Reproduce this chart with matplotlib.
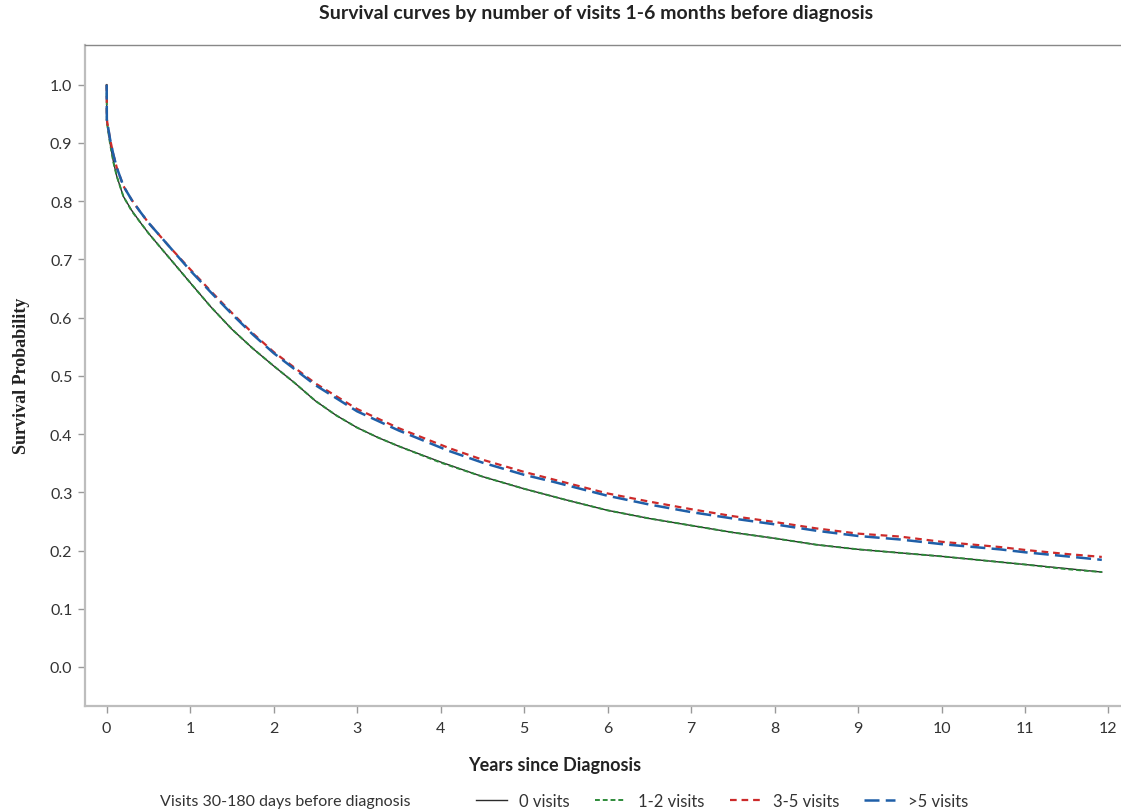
import numpy as np
import matplotlib
matplotlib.use('Agg')
import matplotlib.pyplot as plt

plt.rcParams['font.family'] = ['Lato', 'DejaVu Sans']

# Kaplan-Meier curves (years, survival probability)
t_low = [0, 0.002, 0.04, 0.08, 0.12, 0.2, 0.3, 0.4, 0.5, 0.67, 0.8, 1.0, 1.25, 1.5, 1.75,
         2.0, 2.25, 2.5, 2.75, 3.0, 3.25, 3.5, 4.0, 4.5, 5.0, 5.5, 6.0, 6.5, 7.0, 7.5, 8.0,
         8.5, 9.0, 9.5, 10.0, 10.5, 11.0, 11.5, 11.92]
surv_0 = [1.0, 0.937, 0.90, 0.868, 0.843, 0.808, 0.784, 0.764, 0.745, 0.716, 0.694, 0.66,
          0.618, 0.58, 0.547, 0.517, 0.488, 0.457, 0.432, 0.411, 0.394, 0.379, 0.352, 0.327,
          0.306, 0.287, 0.269, 0.255, 0.243, 0.231, 0.221, 0.21, 0.202, 0.196, 0.19, 0.183,
          0.176, 0.169, 0.163]
surv_12 = [1.0, 0.936, 0.899, 0.867, 0.843, 0.808, 0.783, 0.764, 0.745, 0.716, 0.694, 0.66,
           0.618, 0.58, 0.547, 0.517, 0.488, 0.457, 0.432, 0.411, 0.394, 0.379, 0.351, 0.327,
           0.306, 0.287, 0.269, 0.255, 0.243, 0.231, 0.221, 0.21, 0.202, 0.196, 0.19, 0.183,
           0.176, 0.168, 0.163]

t_up = [0, 0.002, 0.04, 0.08, 0.12, 0.2, 0.3, 0.4, 0.5, 0.75, 1.0, 1.25, 1.5, 1.75, 2.0,
        2.5, 3.0, 3.5, 4.1, 4.5, 5.0, 5.35, 6.0, 6.5, 7.0, 7.5, 8.0, 8.5, 9.0, 9.5, 10.0,
        10.7, 11.0, 11.5, 11.92]
surv_35 = [1.0, 0.94, 0.907, 0.88, 0.858, 0.826, 0.802, 0.782, 0.763, 0.722, 0.683, 0.645,
           0.608, 0.573, 0.541, 0.487, 0.443, 0.41, 0.376, 0.356, 0.335, 0.322, 0.298, 0.284,
           0.271, 0.259, 0.249, 0.238, 0.229, 0.224, 0.215, 0.206, 0.201, 0.194, 0.189]
surv_5p = [1.0, 0.94, 0.907, 0.88, 0.858, 0.826, 0.802, 0.782, 0.763, 0.722, 0.681, 0.643,
           0.606, 0.571, 0.539, 0.484, 0.439, 0.406, 0.371, 0.351, 0.33, 0.318, 0.294, 0.279,
           0.266, 0.255, 0.245, 0.234, 0.225, 0.219, 0.211, 0.202, 0.197, 0.19, 0.184]

labels = ['0 visits', '1-2 visits', '3-5 visits', '>5 visits']

fig = plt.figure(figsize=(11.21, 8.12), dpi=100)
ax = fig.add_axes([0.0758, 0.1293, 0.9242, 0.814])

ax.plot(t_low, surv_0, color='#2b2b2b', lw=1.0, ls='-', label=labels[0])
ax.plot(t_low, surv_12, color='#2e8b3a', lw=1.4, ls=(0, (2.5, 1.5)), label=labels[1])
ax.plot(t_up, surv_35, color='#cc2a2a', lw=1.6, ls=(0, (3, 2.2)), label=labels[2])
ax.plot(t_up, surv_5p, color='#1f5fa8', lw=1.8, ls=(0, (6, 2.5)), label=labels[3])

ax.set_xlim(-0.26, 12.15)
ax.set_ylim(-0.067, 1.068)
ax.set_xticks(range(0, 13))
ax.set_yticks(np.round(np.arange(0, 1.01, 0.1), 1))
ax.yaxis.set_major_formatter(matplotlib.ticker.FormatStrFormatter('%.1f'))
ax.tick_params(direction='out', length=5, width=1, color='#999999',
               labelcolor='#333333', labelsize=11.5)
ax.tick_params(axis='y', pad=4)
ax.tick_params(axis='x', pad=6)

for s in ['left', 'bottom']:
    ax.spines[s].set_color('#bdbdbd')
    ax.spines[s].set_linewidth(1.6)
ax.spines['top'].set_color('#888888')
ax.spines['top'].set_linewidth(1.0)
ax.spines['right'].set_visible(False)

fig.text(596 / 1121, 1 - 13 / 812,
         'Survival curves by number of visits 1-6 months before diagnosis',
         ha='center', va='center', fontsize=14, fontweight='bold', color='#222222')
fig.text(555 / 1121, 1 - 766 / 812, 'Years since Diagnosis', ha='center', va='center',
         fontsize=13, fontweight='bold', color='#222222')
fig.text(22 / 1121, 1 - 376 / 812, 'Survival Probability', rotation=90,
         ha='center', va='center', fontsize=13, fontweight='bold',
         family='Liberation Serif', color='#222222')

fig.text(160 / 1121, 1 - 802 / 812, 'Visits 30-180 days before diagnosis',
         ha='left', va='center', fontsize=11.5, color='#333333')
fig.legend(loc='center left', bbox_to_anchor=(476 / 1121, 1 - 802 / 812), ncol=4,
           frameon=False, fontsize=12, handlelength=1.85, handletextpad=0.75,
           columnspacing=1.5, borderaxespad=0, borderpad=0, labelcolor='#333333')

fig.savefig('out.png', dpi=100)
